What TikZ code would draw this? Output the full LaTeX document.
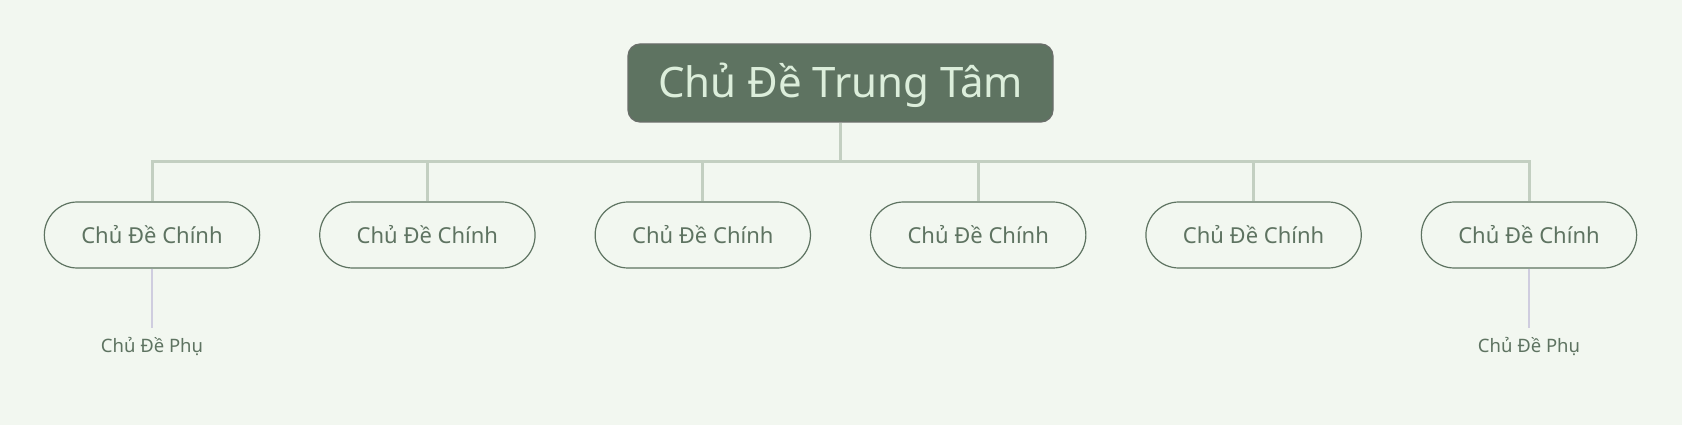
\documentclass[tikz,border=0pt]{standalone}
\usepackage{fontspec}
\setmainfont{Noto Sans}
\usetikzlibrary{shapes.misc}

\definecolor{paper}{HTML}{F2F7F0}
\definecolor{rootfill}{HTML}{5E7361}
\definecolor{rootedge}{HTML}{6A6E6A}
\definecolor{roottext}{HTML}{DCEEDB}
\definecolor{branch}{HTML}{C3CFC1}
\definecolor{twig}{HTML}{CFCDDF}
\definecolor{ink}{HTML}{5E7361}

\tikzset{
  roottopic/.style={draw=rootedge, line width=1.2pt, fill=rootfill, text=roottext,
    rounded corners=12pt, minimum width=425pt, minimum height=78pt, text depth=5pt,
    font=\fontsize{42}{48}\selectfont},
  maintopic/.style={rounded rectangle, draw=ink, line width=1.2pt, fill=paper, text=ink,
    minimum width=222pt, minimum height=66pt, font=\fontsize{22}{26}\selectfont},
  subtopic/.style={text=ink, inner sep=0pt, font=\fontsize{18.5}{22}\selectfont},
  branchline/.style={draw=branch, line width=3pt},
  twigline/.style={draw=twig, line width=1.3pt}
}

\begin{document}
\begin{tikzpicture}[x=1pt,y=-1pt]
% Page background, it also fixes the size
\fill[paper] (0,0) rectangle (1682,425);
\useasboundingbox (0,0) rectangle (1682,425);
% Central topic
\node[roottopic] (root) at (840.5,83) {Chủ Đề Trung Tâm};
% Point where the trunk meets the bus line
\coordinate (hub) at (840.5,162);
% Main topics
\node[maintopic] (main1) at (152,235) {Chủ Đề Chính};
\node[maintopic] (main2) at (427.4,235) {Chủ Đề Chính};
\node[maintopic] (main3) at (702.8,235) {Chủ Đề Chính};
\node[maintopic] (main4) at (978.2,235) {Chủ Đề Chính};
\node[maintopic] (main5) at (1253.6,235) {Chủ Đề Chính};
\node[maintopic] (main6) at (1529,235) {Chủ Đề Chính};
% Sub topics under the outer main topics
\node[subtopic,anchor=north] (sub1) at (152,337) {Chủ Đề Phụ};
\node[subtopic,anchor=north] (sub6) at (1529,337) {Chủ Đề Phụ};
% Trunk and branches
\draw[branchline] (root.south) -- (hub);
\draw[branchline] (hub) -| (main1.north);
\draw[branchline] (hub) -| (main2.north);
\draw[branchline] (hub) -| (main3.north);
\draw[branchline] (hub) -| (main4.north);
\draw[branchline] (hub) -| (main5.north);
\draw[branchline] (hub) -| (main6.north);
% Twigs down to the sub topics
\draw[twigline] (main1.south) -- ([yshift=9pt]sub1.north);
\draw[twigline] (main6.south) -- ([yshift=9pt]sub6.north);
\end{tikzpicture}
\end{document}
